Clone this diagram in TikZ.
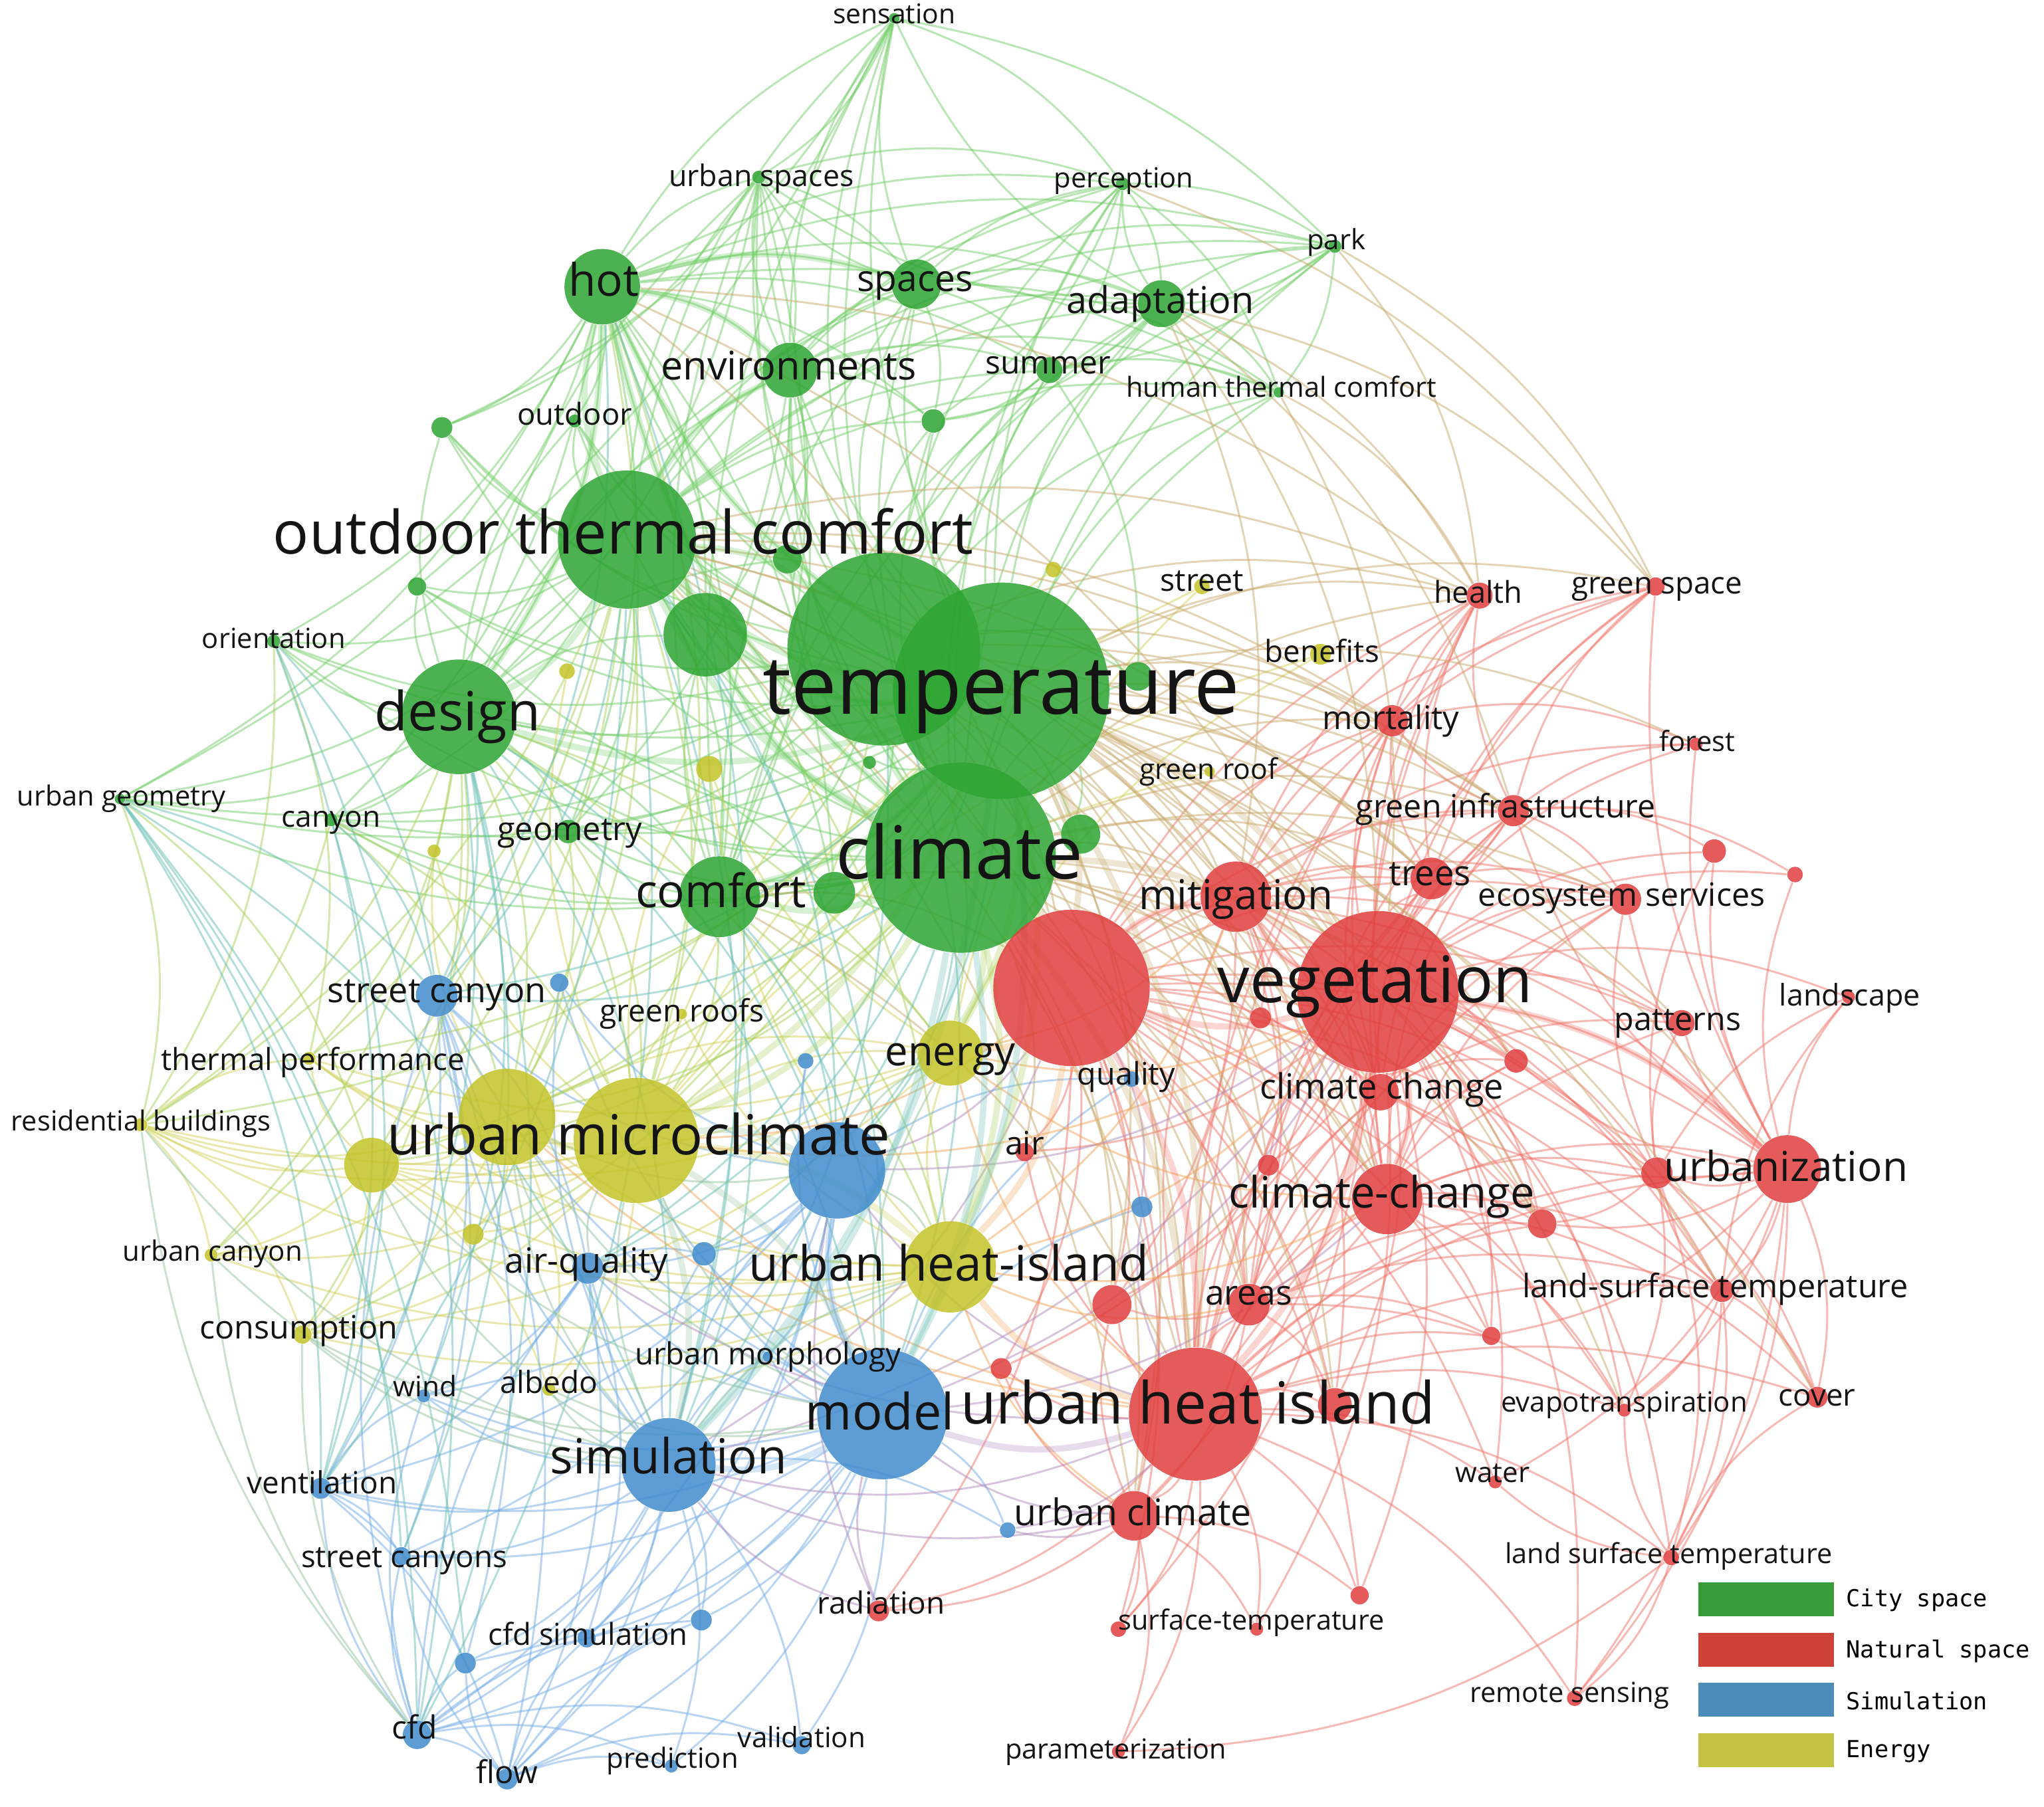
\documentclass[tikz,border=0pt]{standalone}
\usepackage{fontspec}
\setmainfont{Open Sans}
\newfontfamily\legfont{DejaVu Sans Mono}
\usepackage{graphicx}
\pgfdeclarelayer{edges}
\pgfsetlayers{edges,main}
\definecolor{cG}{RGB}{45,165,50}
\definecolor{cR}{RGB}{225,62,62}
\definecolor{cB}{RGB}{65,140,205}
\definecolor{cY}{RGB}{195,195,40}
\definecolor{ceG}{RGB}{115,205,105}
\definecolor{ceR}{RGB}{240,115,105}
\definecolor{ceB}{RGB}{115,172,228}
\definecolor{ceY}{RGB}{210,210,95}
\definecolor{ceGR}{RGB}{200,170,110}
\definecolor{ceGY}{RGB}{170,208,90}
\definecolor{ceGB}{RGB}{105,190,180}
\definecolor{ceRB}{RGB}{175,140,190}
\definecolor{ceRY}{RGB}{240,165,90}
\definecolor{ceBY}{RGB}{150,195,160}
\definecolor{lgG}{RGB}{55,155,58}
\definecolor{lgR}{RGB}{205,65,55}
\definecolor{lgB}{RGB}{75,140,185}
\definecolor{lgY}{RGB}{195,195,65}
\definecolor{txt}{RGB}{20,20,20}
\newdimen\upx \upx=0.5pt
\tikzset{
  kwnode/.style={circle, draw=none, inner sep=0pt, fill opacity=0.85},
  kwlabel/.style={inner sep=0pt, text=txt},
  edge/.style={line width=0.75pt, draw opacity=0.5},
  thk/.style={line width=2.4pt, draw opacity=0.3},
  eG/.style={edge, draw=ceG}, eR/.style={edge, draw=ceR},
  eB/.style={edge, draw=ceB}, eY/.style={edge, draw=ceY},
  eGR/.style={edge, draw=ceGR}, eGY/.style={edge, draw=ceGY},
  eGB/.style={edge, draw=ceGB}, eRB/.style={edge, draw=ceRB},
  eRY/.style={edge, draw=ceRY}, eBY/.style={edge, draw=ceBY},
  tG/.style={thk, draw=ceG}, tR/.style={thk, draw=ceR},
  tB/.style={thk, draw=ceB}, tY/.style={thk, draw=ceY},
  tGR/.style={thk, draw=ceGR}, tGY/.style={thk, draw=ceGY},
  tRB/.style={thk, draw=ceRB}, tRY/.style={thk, draw=ceRY},
  tBY/.style={thk, draw=ceBY}, tGB/.style={thk, draw=ceGB},
  legbox/.style={rectangle, draw=none, minimum width=52pt, minimum height=13pt, inner sep=0pt},
  legtext/.style={anchor=west, inner sep=0pt, text=black, font=\legfont\fontsize{9}{10}\selectfont}
}
\newcommand\nd[5]{\node[kwnode, fill=#1, minimum size=#5pt] (#2) at (#3,#4) {};}
\newcommand\kw[5]{\node[kwlabel] (#1) at (#2,#3) {\resizebox{#4\upx}{!}{\vphantom{Ag}#5}};}
\newcommand\links[3]{\foreach \tg in {#3}{\draw[#1] (#2) to[bend left=17] (\tg);}}
\begin{document}
\begin{tikzpicture}[x=0.5pt, y=-0.5pt]
\useasboundingbox (0,0) rectangle (1568,1386);
% ---------------- green nodes
\nd{cG}{sens}{686}{14}{4}
\nd{cG}{ursp}{582}{136}{5}
\nd{cG}{perc}{861}{141}{5}
\nd{cG}{park}{1024}{189}{5}
\nd{cG}{hot}{462}{220}{29}
\nd{cG}{spac}{703}{218}{19}
\nd{cG}{adap}{891}{233}{18}
\nd{cG}{envi}{606}{284}{21}
\nd{cG}{summ}{805}{284}{10}
\nd{cG}{htc}{981}{301}{4}
\nd{cG}{outd}{441}{323}{5}
\nd{cG}{g2}{339}{328}{8}
\nd{cG}{g3}{716}{323}{9}
\nd{cG}{otc}{481}{414}{53}
\nd{cG}{g10}{604}{429}{11}
\nd{cG}{g4}{320}{450}{7}
\nd{cG}{g1}{678}{498}{74}
\nd{cG}{g5}{541}{487}{32}
\nd{cG}{temp}{768}{530}{83}
\nd{cG}{orie}{210}{492}{5}
\nd{cG}{desi}{352}{550}{44}
\nd{cG}{g6}{873}{519}{11}
\nd{cG}{g7}{667}{585}{5}
\nd{cG}{urge}{92}{613}{4}
\nd{cG}{cany}{254}{629}{5}
\nd{cG}{geom}{436}{638}{9}
\nd{cG}{g8}{829}{640}{15}
\nd{cG}{clim}{737}{658}{73}
\nd{cG}{comf}{552}{688}{31}
\nd{cG}{g9}{640}{685}{16}
% ---------------- yellow nodes
\nd{cY}{y2}{808}{437}{6}
\nd{cY}{stre}{922}{450}{6}
\nd{cY}{bene}{1013}{502}{8}
\nd{cY}{y3}{435}{515}{6}
\nd{cY}{y4}{544}{590}{10}
\nd{cY}{grro}{928}{592}{4}
\nd{cY}{y5}{333}{653}{5}
\nd{cY}{grrs}{523}{778}{4}
\nd{cY}{ther}{237}{812}{5}
\nd{cY}{y1}{389}{857}{37}
\nd{cY}{resi}{108}{863}{5}
\nd{cY}{umc}{488}{875}{48}
\nd{cY}{y6}{285}{894}{21}
\nd{cY}{ener}{729}{808}{25}
\nd{cY}{y7}{363}{947}{8}
\nd{cY}{urca}{162}{963}{5}
\nd{cY}{cons}{232}{1024}{7}
\nd{cY}{albe}{421}{1066}{5}
\nd{cY}{uhi2}{729}{972}{35}
% ---------------- blue nodes
\nd{cB}{stca}{335}{764}{16}
\nd{cB}{b2}{429}{754}{7}
\nd{cB}{b3}{618}{814}{6}
\nd{cB}{b1}{642}{898}{37}
\nd{cB}{qual}{868}{828}{6}
\nd{cB}{airq}{451}{973}{12}
\nd{cB}{b4}{540}{962}{9}
\nd{cB}{b5}{876}{926}{8}
\nd{cB}{umor}{589}{1041}{4}
\nd{cB}{wind}{325}{1071}{5}
\nd{cB}{mode}{677}{1085}{50}
\nd{cB}{simu}{513}{1124}{36}
\nd{cB}{vent}{246}{1142}{8}
\nd{cB}{stcs}{308}{1194}{7}
\nd{cB}{b6}{773}{1174}{6}
\nd{cB}{cfds}{450}{1257}{7}
\nd{cB}{b7}{538}{1243}{8}
\nd{cB}{b8}{357}{1276}{8}
\nd{cB}{cfd}{320}{1331}{11}
\nd{cB}{flow}{389}{1365}{8}
\nd{cB}{pred}{515}{1355}{5}
\nd{cB}{vali}{615}{1339}{7}
% ---------------- red nodes
\nd{cR}{heal}{1135}{457}{10}
\nd{cR}{grsp}{1270}{450}{7}
\nd{cR}{mort}{1068}{553}{12}
\nd{cR}{fore}{1301}{571}{5}
\nd{cR}{grin}{1161}{622}{12}
\nd{cR}{tree}{1098}{674}{16}
\nd{cR}{miti}{948}{688}{27}
\nd{cR}{ecos}{1247}{690}{12}
\nd{cR}{r2}{1315}{653}{9}
\nd{cR}{r3}{1377}{671}{6}
\nd{cR}{r1}{822}{758}{60}
\nd{cR}{vege}{1057}{761}{62}
\nd{cR}{r4}{967}{781}{8}
\nd{cR}{land}{1418}{765}{5}
\nd{cR}{patt}{1290}{785}{10}
\nd{cR}{clch}{1059}{838}{14}
\nd{cR}{r5}{1163}{814}{9}
\nd{cR}{air}{786}{884}{7}
\nd{cR}{r6}{1271}{900}{12}
\nd{cR}{urba}{1371}{897}{26}
\nd{cR}{clcg}{1064}{920}{27}
\nd{cR}{r7}{973}{894}{8}
\nd{cR}{r8}{1183}{939}{11}
\nd{cR}{area}{958}{1001}{16}
\nd{cR}{r9}{853}{1001}{15}
\nd{cR}{lst}{1321}{990}{9}
\nd{cR}{r10}{1144}{1025}{7}
\nd{cR}{uhi}{917}{1085}{51}
\nd{cR}{r11}{768}{1050}{8}
\nd{cR}{r13}{1024}{1078}{13}
\nd{cR}{evap}{1246}{1082}{5}
\nd{cR}{cove}{1394}{1072}{8}
\nd{cR}{wate}{1147}{1137}{5}
\nd{cR}{urcl}{870}{1163}{19}
\nd{cR}{lst2}{1282}{1195}{6}
\nd{cR}{r12}{1043}{1224}{7}
\nd{cR}{radi}{674}{1236}{8}
\nd{cR}{sutp}{858}{1250}{6}
\nd{cR}{r14}{964}{1250}{5}
\nd{cR}{rems}{1208}{1303}{6}
\nd{cR}{para}{858}{1344}{5}
% ---------------- edges
\begin{pgfonlayer}{edges}
% green
\links{eG}{temp}{sens,ursp,perc,park,hot,spac,adap,envi,summ,htc,outd,g2,g3,g10,g4,g5,orie,g6,g7,urge,cany,geom,g8,comf,g9}
\links{eG}{clim}{sens,ursp,perc,park,hot,spac,adap,envi,summ,htc,outd,g2,g3,g4,g10,g5,orie,desi,g6,urge,cany,geom,g8,g9}
\links{eG}{otc}{sens,ursp,perc,park,spac,adap,envi,summ,htc,outd,g2,g3,g4,g10,g5,orie,urge,cany,geom,comf,g9}
\links{eG}{g1}{sens,ursp,perc,park,hot,spac,adap,envi,summ,htc,outd,g2,g3,g4,g10,g5,desi,geom,comf,g9,orie,urge,cany,g6,g8}
\links{eG}{hot}{sens,ursp,perc,park,spac,adap,envi,summ,htc,outd,g2,g3,g4,g5,desi,orie,urge,cany,geom,comf,g9}
\links{eG}{desi}{ursp,spac,envi,outd,g2,g4,g5,orie,urge,cany,geom,comf,g9,g10}
\links{eG}{envi}{sens,ursp,perc,park,spac,adap,summ,htc,g3,g10,g5,comf,geom}
\links{eG}{spac}{sens,ursp,perc,park,adap,summ,htc,g3}
\links{eG}{adap}{sens,perc,park,summ,htc,ursp,g3}
\links{eG}{comf}{sens,ursp,spac,adap,summ,geom,cany,g9,g5}
\links{eG}{sens}{ursp,perc,park,urge,g2}
\links{eG}{ursp}{perc,spac,envi,g2,comf,desi}
\links{eG}{perc}{park,adap,summ,htc,spac,g3}
\links{eG}{park}{adap,htc,summ}
\links{eG}{summ}{htc,g3,g6}
% yellow
\links{eY}{umc}{y1,y6,ther,resi,urca,cons,albe,y7,ener,y3,y4,y5,grrs,stre,y2,bene,grro}
\links{eY}{uhi2}{y1,y6,ther,resi,urca,cons,albe,y7,ener,y4,grrs}
\links{eY}{y1}{y6,ther,resi,urca,cons,albe,y7,y5,ener}
\links{eY}{ener}{y6,ther,resi,cons,y4,bene,stre}
\links{eY}{y6}{ther,resi,urca,cons,albe,y7}
\links{eY}{resi}{ther,urca,cons}
% blue
\links{eB}{mode}{b1,stca,b2,b3,airq,b4,b5,umor,wind,vent,stcs,b6,cfds,b7,b8,cfd,flow,pred,vali,qual}
\links{eB}{simu}{b1,stca,b2,airq,b4,umor,wind,vent,stcs,b6,cfds,b7,b8,cfd,flow,pred,vali}
\links{eB}{b1}{stca,b2,b3,airq,b4,umor,wind,vent,stcs,cfds,cfd,flow,qual}
\links{eB}{cfd}{vent,stcs,cfds,b7,b8,flow,pred,vali,stca,wind,airq}
\links{eB}{stca}{vent,stcs,wind,b8,flow,airq}
\links{eB}{airq}{vent,wind,b4,flow,cfds}
\links{eB}{vent}{stcs,b8,flow,wind}
\links{eB}{flow}{vali,pred,b8,cfds,b7,stcs}
% red
\links{eR}{vege}{heal,grsp,mort,fore,grin,tree,miti,ecos,r2,r3,r4,land,patt,clch,r5,air,r6,urba,clcg,r7,r8,area,r9,lst,r10,r11,r13,evap,cove,wate,urcl,lst2,r12,rems,sutp,r14}
\links{eR}{uhi}{heal,grsp,mort,grin,tree,miti,ecos,r4,patt,clch,r5,air,r6,urba,clcg,r7,r8,area,r9,lst,r10,r11,r13,evap,cove,wate,urcl,lst2,r12,radi,sutp,r14,rems,para}
\links{eR}{r1}{heal,mort,grin,tree,miti,r4,clch,air,urba,clcg,r7,area,r9,r11,urcl,radi,sutp,grsp,ecos,patt,r5,r6,r8,r10,r13,lst,evap,wate,r12}
\links{eR}{miti}{heal,grsp,mort,grin,tree,ecos,r4,clch,r5,urba,clcg,area,r7,r8,r9,r13,patt,lst,fore}
\links{eR}{clcg}{heal,mort,grin,tree,ecos,clch,r5,r6,urba,r7,r8,area,lst,r10,evap,cove}
\links{eR}{urba}{grsp,fore,grin,ecos,r2,r3,land,patt,clch,r5,r6,r8,lst,r10,evap,cove,lst2,rems,wate}
\links{eR}{area}{r9,r10,urcl,lst,evap,r13,r7,r8,clch,tree,grin}
\links{eR}{urcl}{radi,sutp,r14,para,r12,r11,r9}
\links{eR}{grin}{heal,grsp,fore,tree,ecos,r2,r3,mort}
\links{eR}{tree}{heal,grsp,ecos,mort}
\links{eR}{clch}{heal,mort,grin,tree,ecos,r5,patt,r8}
\links{eR}{r6}{patt,ecos,r2,land,r8,cove,evap,lst2}
\links{eR}{mort}{heal,grsp,fore}
\links{eR}{lst}{cove,evap,lst2,rems,land,r6}
\links{eR}{lst2}{rems,cove,evap,wate,para}
% cross-cluster
\links{eGR}{temp}{heal,grsp,mort,grin,tree,miti,ecos,clch,urba,clcg,area,urcl,patt,r5,lst,r4,r7,r9,r8,r13,cove,evap,fore}
\links{eGR}{clim}{heal,mort,grin,tree,miti,clch,clcg,area,urcl,air,r4,r7,r9,r8,r13,r5,ecos}
\links{eGR}{otc}{vege,r1,miti,uhi,clcg,heal,mort,grin,tree,area,urcl}
\links{eGR}{g1}{vege,r1,miti,uhi,heal,mort,grin,tree,clcg}
\links{eGR}{hot}{vege,r1,heal}
\links{eGR}{adap}{miti,heal,grin,vege,grsp}
\links{eGR}{htc}{vege,heal}
\links{eGR}{park}{grsp,heal}
\links{eGR}{perc}{grsp}
\links{eGR}{comf}{r1,uhi,vege}
\links{eGY}{temp}{y1,y6,ther,resi,cons}
\links{eGY}{clim}{y1,y6}
\links{eGY}{otc}{umc,uhi2,y1,y6,ther,resi,urca}
\links{eGY}{desi}{umc,y1,y6,ther,resi,urca,cons,uhi2,ener}
\links{eGY}{comf}{umc,y1,ener,uhi2}
\links{eGY}{g1}{umc,ener}
\links{eGY}{hot}{umc,y1}
\links{eGY}{urge}{resi,y6}
\links{eGY}{orie}{resi,ther}
\links{eGY}{geom}{umc,y1}
\links{eGY}{cany}{umc,y1,resi}
\links{eGB}{temp}{b1,stca,airq}
\links{eGB}{clim}{b1,stca,airq,b4}
\links{eGB}{otc}{simu,mode,b1,stca,vent,cfd}
\links{eGB}{desi}{simu,mode,b1,stca,vent,stcs,cfd,wind}
\links{eGB}{comf}{simu,mode,b1}
\links{eGB}{g1}{simu,mode}
\links{eGB}{hot}{simu,stca}
\links{eGB}{urge}{stca,vent,cfd,simu,stcs,b8}
\links{eGB}{orie}{stca,vent,cfd}
\links{eGB}{cany}{stca,vent}
\links{eRB}{uhi}{simu,b1,b5,b6,airq}
\links{eRB}{vege}{mode,simu,b1}
\links{eRB}{r1}{simu,b1,b5}
\links{eRB}{urcl}{mode,simu,b6}
\links{eRB}{radi}{mode,simu,b1}
\links{eRB}{clcg}{mode}
\links{eRY}{uhi}{umc,ener,y1}
\links{eRY}{vege}{umc,uhi2,ener}
\links{eRY}{r1}{umc}
\links{eRY}{area}{uhi2}
\links{eRY}{clcg}{uhi2,ener}
\links{eRY}{miti}{ener,uhi2}
\links{eRY}{urcl}{uhi2}
\links{eBY}{mode}{umc,ener,y1,y6,albe,cons}
\links{eBY}{simu}{umc,uhi2,y1,y6,cons,albe,urca,resi}
\links{eBY}{b1}{uhi2,ener,y1}
\links{eBY}{airq}{umc,y1}
\links{eBY}{cfd}{resi,urca,cons}
% strong links
\links{tG}{temp}{clim,otc,g1,g5,desi,hot,comf}
\links{tG}{clim}{otc,g1,comf,g5,hot}
\links{tG}{otc}{g1,desi,hot,g5,envi}
\links{tG}{hot}{envi,spac,desi}
\links{tGR}{temp}{vege,r1,uhi}
\links{tGR}{clim}{vege,r1,uhi}
\links{tGY}{temp}{umc,uhi2,ener}
\links{tGY}{clim}{umc,uhi2,ener}
\links{tGB}{temp}{mode,simu}
\links{tGB}{clim}{mode,simu}
\links{tR}{vege}{uhi,r1,miti,clcg,urba}
\links{tR}{r1}{uhi,miti}
\links{tY}{umc}{uhi2,y1}
\links{tBY}{umc}{b1,mode,simu}
\links{tB}{mode}{simu,b1}
\links{tRB}{uhi}{mode}
\links{tRY}{uhi}{uhi2}
\links{tRY}{r1}{uhi2,ener}
\end{pgfonlayer}
% ---------------- labels
\kw{lsens}{686}{13}{94}{sensation}
\kw{lursp}{584}{137}{142}{urban spaces}
\kw{lperc}{862}{139}{107}{perception}
\kw{lpark}{1025}{186}{45}{park}
\kw{lhot}{463}{218}{54}{hot}
\kw{lspac}{702}{217}{89}{spaces}
\kw{ladap}{890}{233}{144}{adaptation}
\kw{lenvi}{605}{284}{196}{environments}
\kw{lsumm}{804}{281}{96}{summer}
\kw{lhtc}{983}{299}{238}{human thermal comfort}
\kw{loutd}{441}{320}{88}{outdoor}
\kw{lotc}{478}{413}{537}{outdoor thermal comfort}
\kw{lorie}{210}{492}{110}{orientation}
\kw{ltemp}{768}{533}{366}{temperature}
\kw{ldesi}{351}{550}{127}{design}
\kw{lstre}{922}{448}{64}{street}
\kw{lbene}{1014}{502}{88}{benefits}
\kw{lheal}{1134}{457}{68}{health}
\kw{lgrsp}{1271}{450}{131}{green space}
\kw{lmort}{1067}{553}{105}{mortality}
\kw{lfore}{1302}{571}{58}{forest}
\kw{lgrro}{927}{592}{106}{green roof}
\kw{lurge}{93}{613}{160}{urban geometry}
\kw{lcany}{254}{629}{76}{canyon}
\kw{lgeom}{437}{639}{111}{geometry}
\kw{lgrin}{1155}{621}{230}{green infrastructure}
\kw{lclim}{736}{660}{190}{climate}
\kw{lcomf}{553}{687}{131}{comfort}
\kw{lmiti}{948}{690}{149}{mitigation}
\kw{ltree}{1097}{673}{63}{trees}
\kw{lecos}{1244}{689}{220}{ecosystem services}
\kw{lvege}{1055}{757}{242}{vegetation}
\kw{lstca}{335}{763}{168}{street canyon}
\kw{lgrrs}{523}{778}{126}{green roofs}
\kw{lland}{1419}{766}{108}{landscape}
\kw{lpatt}{1287}{785}{97}{patterns}
\kw{lener}{729}{810}{100}{energy}
\kw{lther}{240}{815}{233}{thermal performance}
\kw{lqual}{864}{826}{75}{quality}
\kw{lclch}{1060}{836}{187}{climate change}
\kw{lresi}{108}{862}{199}{residential buildings}
\kw{lumc}{490}{875}{386}{urban microclimate}
\kw{lair}{786}{880}{30}{air}
\kw{lurba}{1370}{898}{187}{urbanization}
\kw{lclcg}{1060}{918}{235}{climate-change}
\kw{lurca}{163}{962}{138}{urban canyon}
\kw{lairq}{450}{970}{125}{air-quality}
\kw{luhiz}{728}{973}{307}{urban heat-island}
\kw{larea}{958}{995}{67}{areas}
\kw{llst}{1316}{989}{296}{land-surface temperature}
\kw{lcons}{229}{1021}{152}{consumption}
\kw{lumor}{589}{1041}{204}{urban morphology}
\kw{lwind}{326}{1066}{49}{wind}
\kw{lalbe}{421}{1063}{75}{albedo}
\kw{lmode}{675}{1087}{114}{model}
\kw{luhi}{919}{1081}{364}{urban heat island}
\kw{levap}{1246}{1078}{189}{evapotranspiration}
\kw{lcove}{1394}{1073}{59}{cover}
\kw{lsimu}{513}{1121}{182}{simulation}
\kw{lvent}{247}{1140}{115}{ventilation}
\kw{lwate}{1145}{1132}{57}{water}
\kw{lurcl}{869}{1163}{182}{urban climate}
\kw{llstz}{1280}{1194}{251}{land surface temperature}
\kw{lstcs}{310}{1197}{158}{street canyons}
\kw{lradi}{676}{1232}{98}{radiation}
\kw{lsutp}{960}{1245}{204}{surface-temperature}
\kw{lcfds}{451}{1256}{153}{cfd simulation}
\kw{lrems}{1204}{1301}{153}{remote sensing}
\kw{lcfd}{318}{1328}{35}{cfd}
\kw{lvali}{615}{1335}{98}{validation}
\kw{lpred}{516}{1351}{101}{prediction}
\kw{lpara}{856}{1344}{170}{parameterization}
\kw{lflow}{389}{1362}{47}{flow}
% ---------------- legend
\node[legbox, fill=lgG] (legG) at (1355,1227) {};
\node[legbox, fill=lgR] (legR) at (1355,1266) {};
\node[legbox, fill=lgB] (legB) at (1355,1304) {};
\node[legbox, fill=lgY] (legY) at (1355,1343) {};
\node[legtext] (legGt) at (1416,1228) {City space};
\node[legtext] (legRt) at (1416,1267) {Natural space};
\node[legtext] (legBt) at (1416,1305) {Simulation};
\node[legtext] (legYt) at (1416,1344) {Energy};
\end{tikzpicture}
\end{document}
